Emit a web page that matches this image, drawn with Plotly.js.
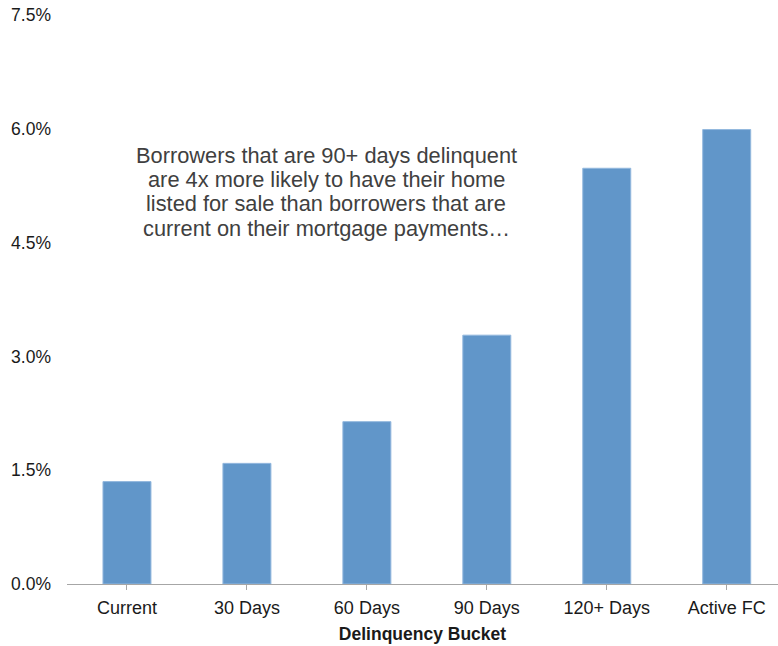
<!DOCTYPE html>
<html>
<head>
<meta charset="utf-8">
<script src="https://cdn.plot.ly/plotly-3.0.1.min.js"></script>
<style>html,body{margin:0;padding:0;background:#fff;}#chart{width:778px;height:646px;}</style>
</head>
<body>
<div id="chart"></div>
<script>
const categories = ["Current", "30 Days", "60 Days", "90 Days", "120+ Days", "Active FC"];
const listedPct = [1.35, 1.59, 2.14, 3.28, 5.48, 5.99];
const yTickVals = [0, 1.5, 3.0, 4.5, 6.0, 7.5];
const yTickText = ["0.0%", "1.5%", "3.0%", "4.5%", "6.0%", "7.5%"];
const noteLines = [
  "Borrowers that are 90+ days delinquent",
  "are 4x more likely to have their home",
  "listed for sale than borrowers that are",
  "current on their mortgage payments…"
];
const noteY = [5.65, 5.33, 5.01, 4.69];

const font = "Liberation Sans, Arial, sans-serif";

const trace = {
  type: "bar",
  x: categories.map((c, i) => i),
  y: listedPct,
  width: 0.4,
  marker: {color: "#6196C9", line: {color: "#93B8DE", width: 1}},
  hoverinfo: "skip"
};

const annotations = noteLines.map((t, i) => ({
  text: t, x: 1.66, y: noteY[i], xref: "x", yref: "y",
  xanchor: "center", yanchor: "middle", showarrow: false,
  font: {family: font, size: 21.8, color: "#404040"}
}));

const layout = {
  width: 778, height: 646,
  margin: {l: 66.7, r: 0, t: 15.3, b: 61.7},
  paper_bgcolor: "#fff", plot_bgcolor: "#fff",
  showlegend: false,
  xaxis: {
    range: [-0.5, 5.4275],
    tickmode: "array",
    tickvals: categories.map((c, i) => i),
    ticktext: categories,
    tickson: "boundaries",
    ticks: "outside", ticklen: 5, tickcolor: "#a6a6a6", tickwidth: 1,
    showline: true, linecolor: "#a6a6a6", linewidth: 1.3,
    showgrid: false, zeroline: false,
    ticklabelstandoff: 2,
    tickfont: {family: font, size: 18, color: "#1a1a1a"},
    title: {text: "<b>Delinquency Bucket</b>", font: {family: font, size: 17.5, color: "#1a1a1a"}, standoff: 10}
  },
  yaxis: {
    range: [0, 7.5],
    tickmode: "array", tickvals: yTickVals, ticktext: yTickText,
    showline: false, showgrid: false, zeroline: false, ticks: "",
    ticklabelstandoff: 15,
    tickfont: {family: font, size: 17.5, color: "#1a1a1a"}
  },
  annotations: annotations
};

Plotly.newPlot("chart", [trace], layout, {displayModeBar: false, staticPlot: true});
</script>
</body>
</html>
